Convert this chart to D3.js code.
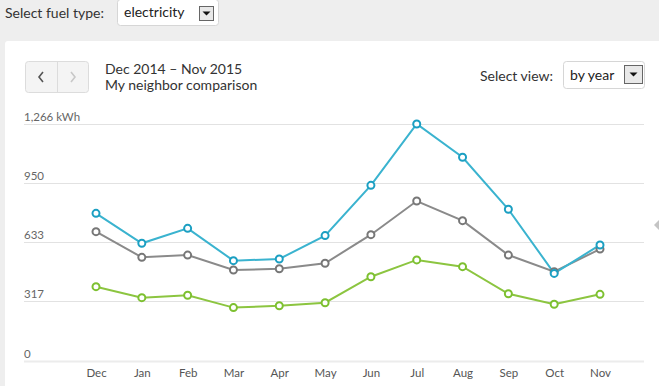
<!DOCTYPE html>
<html><head><meta charset="utf-8">
<script src="https://cdn.jsdelivr.net/npm/d3@7"></script>
<style>
html,body{margin:0;padding:0;background:#eeeeee;width:659px;height:386px;overflow:hidden;font-family:Lato,"Open Sans",sans-serif;}
svg{display:block}
</style></head><body>
<svg id="c" width="659" height="386"></svg>
<script>
const months = ["Dec","Jan","Feb","Mar","Apr","May","Jun","Jul","Aug","Sep","Oct","Nov"];
const myHome = [788,628,708,535,544,669,938,1266,1088,810,467,619];
const allNeighbors = [690,553,565,485,492,521,674,854,749,565,476,597];
const efficientNeighbors = [396,337,350,284,294,310,449,539,503,358,302,355];
const yTicks = [0,317,633,950,1266];
const yTickLabels = ["0","317","633","950","1,266 kWh"];
const seriesColors = {my:"#3ab3cf", all:"#8a8a8a", eff:"#8cc540"};
const markerColors = {my:"#1b9fc2", all:"#777777", eff:"#7dc030"};

const svg = d3.select("#c");
// panel
svg.append("rect").attr("x",5).attr("y",41).attr("width",660).attr("height",350).attr("fill","#fff").attr("rx",3);

// top fuel select
svg.append("text").attr("x",5).attr("y",18).attr("font-size",14).attr("fill","#333").text("Select fuel type:");
function dropdown(x,y,w,h,label,bx,by,bs){
  svg.append("rect").attr("x",x+0.5).attr("y",y+0.5).attr("width",w).attr("height",h).attr("rx",3)
    .attr("fill","#fff").attr("stroke","#d6d6d6");
  svg.append("text").attr("x",x+7).attr("y",y+h/2+5).attr("font-size",14).attr("fill","#222").text(label);
  svg.append("rect").attr("x",bx+0.5).attr("y",by+0.5).attr("width",bs).attr("height",bs)
    .attr("fill","#e8e8e8").attr("stroke","#666");
  const cx=bx+bs/2+0.5, cy=by+bs/2+0.5;
  svg.append("path").attr("d",`M${cx-4},${cy-2}L${cx+4},${cy-2}L${cx},${cy+2}Z`).attr("fill","#111");
}
dropdown(117,-1,101,26,"electricity",199,6,14);

// nav buttons
svg.append("rect").attr("x",25.5).attr("y",61.5).attr("width",63).attr("height",31).attr("rx",3)
  .attr("fill","#f4f4f4").attr("stroke","#dcdcdc");
svg.append("line").attr("x1",57.5).attr("x2",57.5).attr("y1",62).attr("y2",92).attr("stroke","#dcdcdc");
svg.append("path").attr("d","M43,72L39,77L43,82").attr("fill","none").attr("stroke","#555").attr("stroke-width",1.6);
svg.append("path").attr("d","M71,72L75,77L71,82").attr("fill","none").attr("stroke","#c8c8c8").attr("stroke-width",1.6);

svg.append("text").attr("x",105).attr("y",74).attr("font-size",14).attr("fill","#333").text("Dec 2014 – Nov 2015");
svg.append("text").attr("x",105).attr("y",90).attr("font-size",14).attr("fill","#333").text("My neighbor comparison");

svg.append("text").attr("x",553).attr("y",81).attr("text-anchor","end").attr("font-size",14).attr("fill","#333").text("Select view:");
dropdown(563,61,81,27,"by year",624,65,18);

// right arrow
svg.append("path").attr("d","M659,220L654,225L659,230Z").attr("fill","#c4c4c4");

// scales
const x = d3.scalePoint().domain(months).range([96,600]);
const y = d3.scaleLinear().domain([0,1266]).range([360.7,124]);

const g = svg.append("g");
g.selectAll("line.grid").data(yTicks).join("line")
  .attr("x1",24).attr("x2",644)
  .attr("y1",d=>Math.round(y(d))+0.5).attr("y2",d=>Math.round(y(d))+0.5)
  .attr("stroke",d=>d===0?"#ececec":"#e2e2e2").attr("stroke-width",d=>d===0?2:1);
g.selectAll("text.yl").data(yTicks).join("text")
  .attr("x",24).attr("y",d=>Math.round(y(d))-3)
  .attr("font-size",11.5).attr("fill","#666").text((d,i)=>yTickLabels[i]);

// x axis labels
const xAxis = d3.axisBottom(x).tickSize(0).tickPadding(0);
const xa = svg.append("g").attr("transform","translate(0,369)").call(xAxis);
xa.select(".domain").remove();
xa.selectAll("text").attr("font-size",11.5).attr("fill","#555").attr("font-family","Lato,'Open Sans',sans-serif").attr("dy","0.71em");

const line = d3.line().x((d,i)=>x(months[i])).y(d=>y(d));
const series = [["eff",efficientNeighbors],["all",allNeighbors],["my",myHome]];
series.forEach(([k,vals])=>{
  svg.append("path").datum(vals).attr("d",line).attr("fill","none")
    .attr("stroke",seriesColors[k]).attr("stroke-width",2);
});
series.forEach(([k,vals])=>{
  svg.append("g").selectAll("circle").data(vals).join("circle")
    .attr("cx",(d,i)=>x(months[i])).attr("cy",d=>y(d)).attr("r",3.5)
    .attr("fill","#fff").attr("stroke",markerColors[k]).attr("stroke-width",2);
});
</script></body></html>
